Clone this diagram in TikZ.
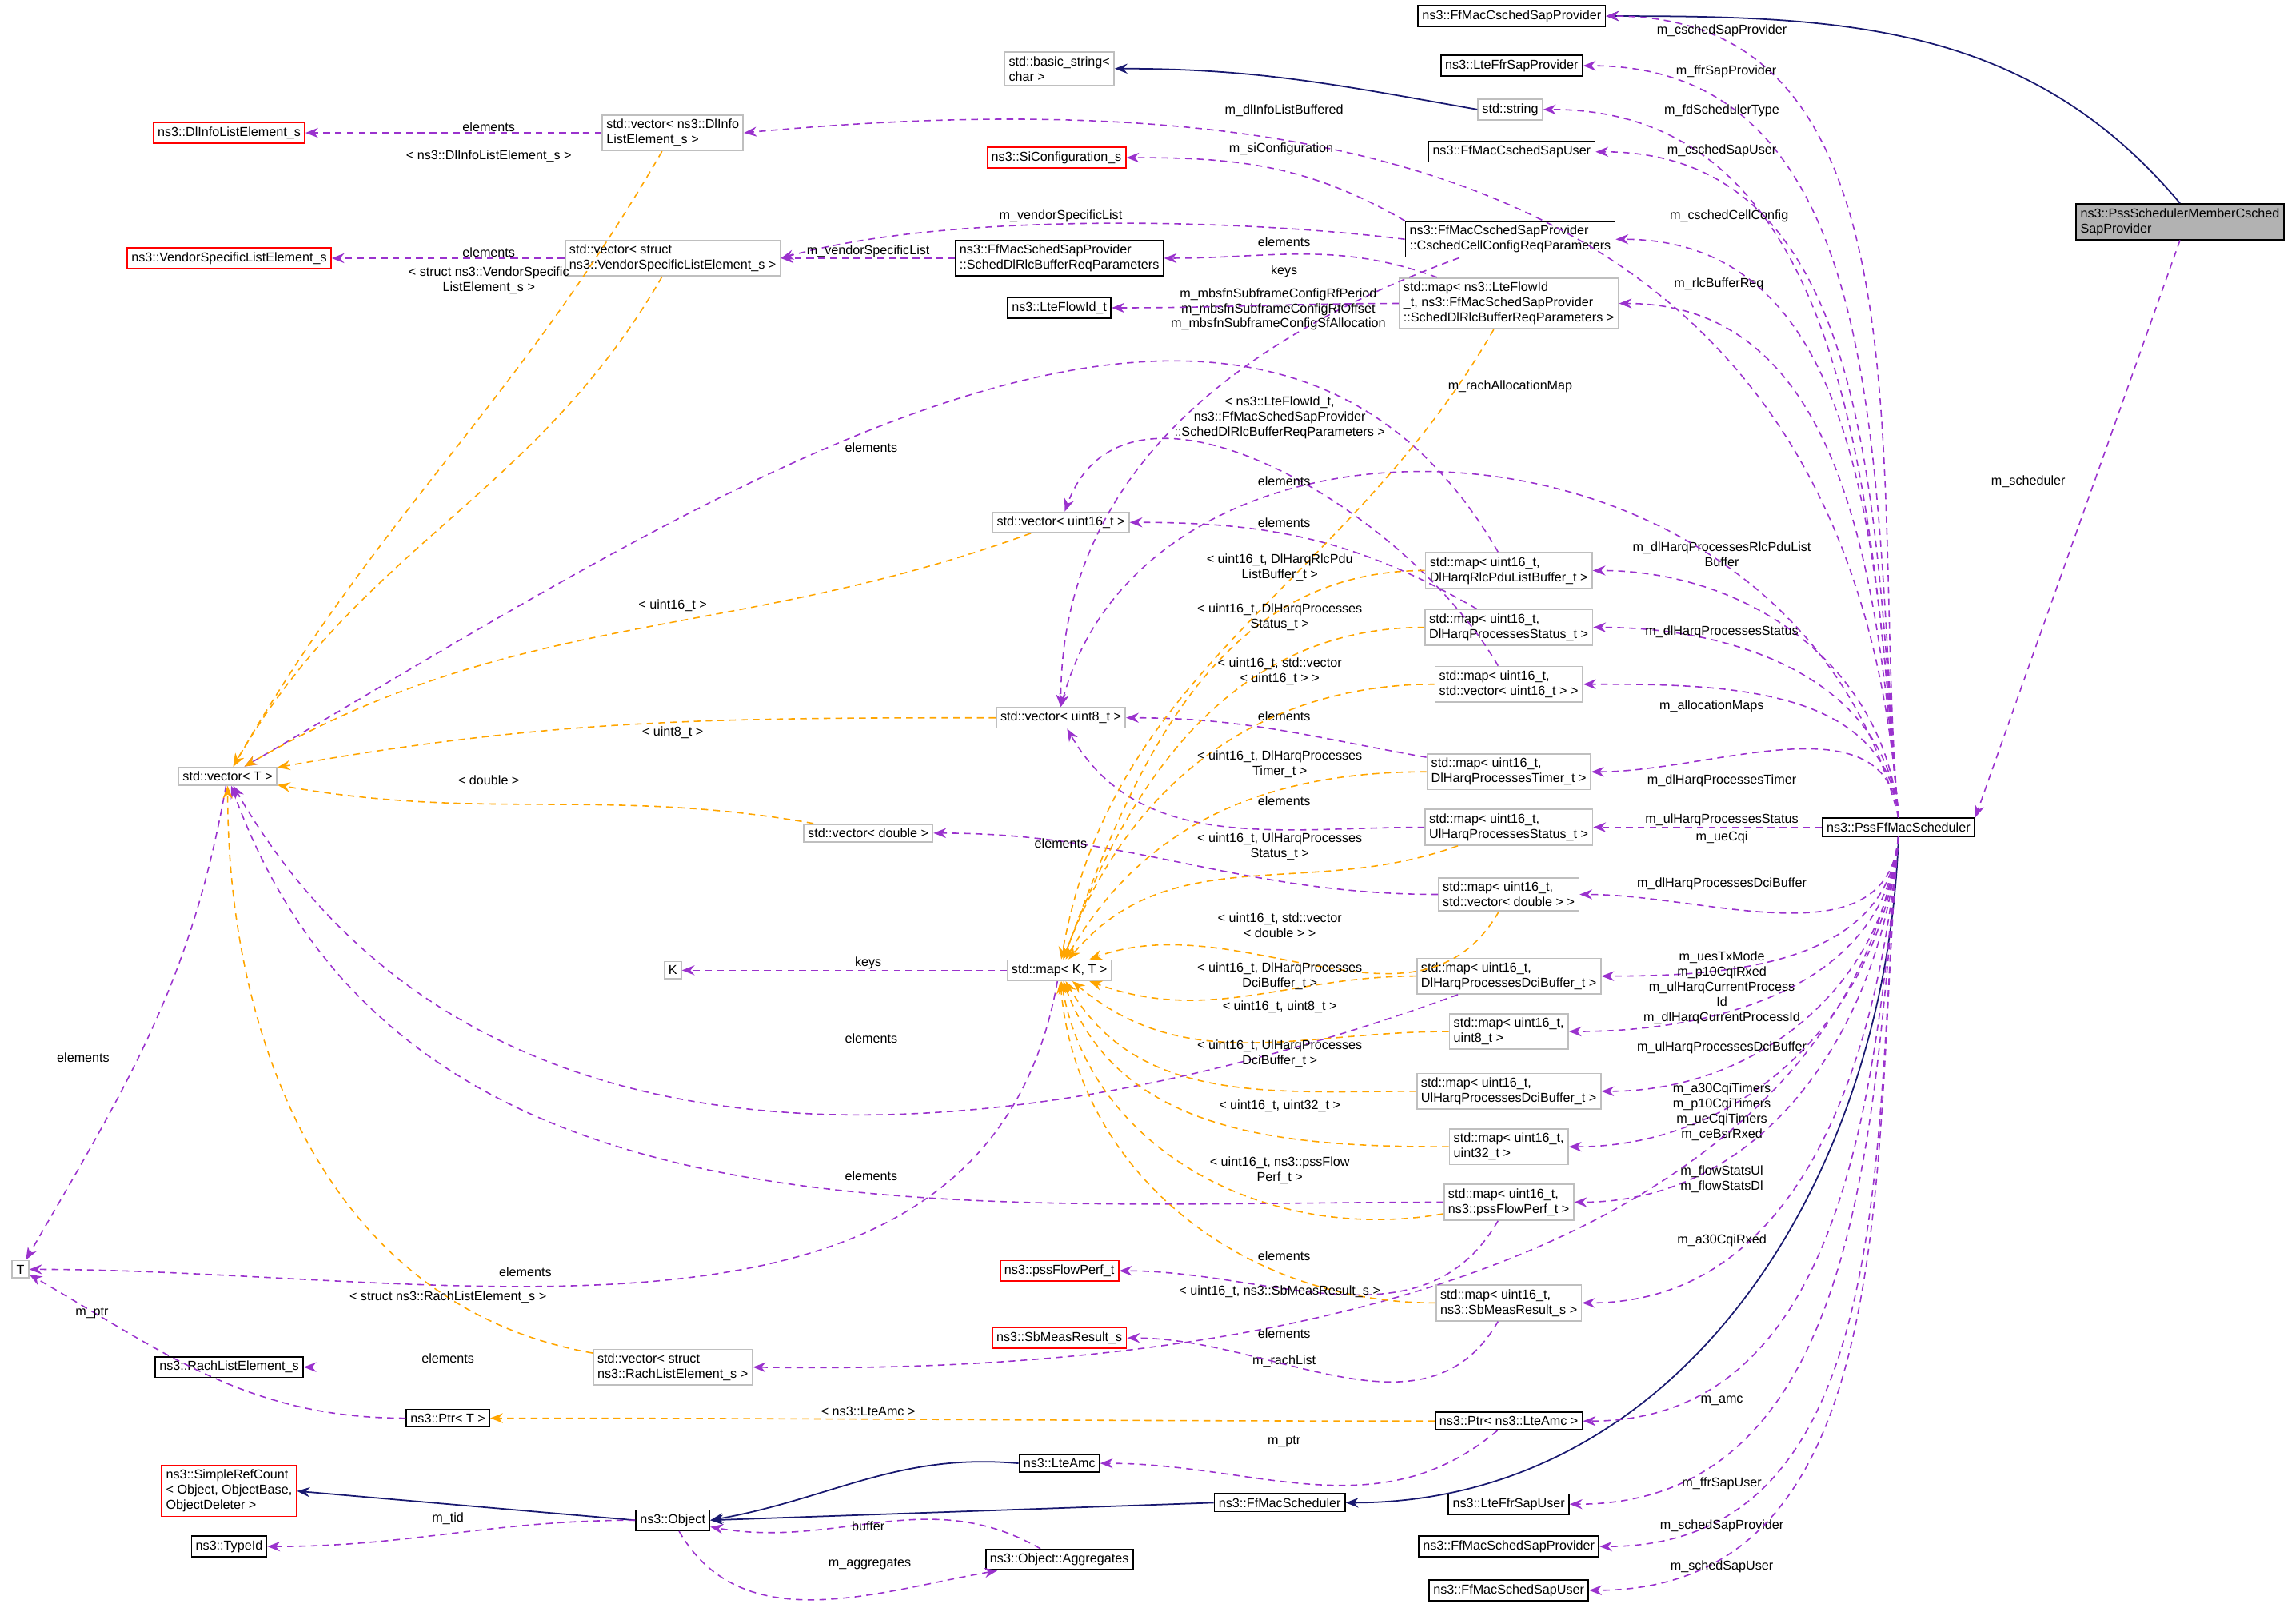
\documentclass[tikz,border=0pt]{standalone}
\usepackage{fontspec}
\setmainfont{Liberation Sans}
\usetikzlibrary{arrows.meta,positioning}
\definecolor{usecol}{HTML}{9A32CD}
\definecolor{tplcol}{HTML}{FFA500}
\definecolor{inhcol}{HTML}{191970}
\begin{document}
\begin{tikzpicture}
  [x=0.1825mm,y=-0.1825mm,
   font=\fontsize{4.6}{5.4}\selectfont,
   box/.style={rectangle, inner sep=1.5pt, align=left, line width=0.5pt},
   cls/.style={box, draw=black},
   tpl/.style={box, draw=black!25},
   bad/.style={box, draw=red},
   focus/.style={box, draw=black, fill=black!30},
   lbl/.style={inner sep=0pt, align=center},
   use/.style={draw=usecol, line width=0.45pt, dash pattern=on 2.4pt off 1.8pt,
     -{Stealth[length=4.5pt,width=3.5pt]}},
   inst/.style={draw=tplcol, line width=0.45pt, dash pattern=on 2.4pt off 1.8pt,
     -{Stealth[length=4.5pt,width=3.5pt]}},
   inh/.style={draw=inhcol, line width=0.5pt, -{Stealth[length=4.5pt,width=3.5pt]}}
  ]
  \useasboundingbox (0,0) rectangle (1568,1113);

  % classes on the right
  \node (pss) [cls] at (1301,567) {ns3::PssFfMacScheduler};
  \node (psscsched) [focus] at (1494,152) {ns3::PssSchedulerMemberCsched\\SapProvider};
  \node (cschedprov) [cls] at (1036,11) {ns3::FfMacCschedSapProvider};
  \node (lteffrprov) [cls] at (1036,45) {ns3::LteFfrSapProvider};
  \node (stdstring) [tpl] at (1035,75) {std::string};
  \node (bstring) [tpl] at (726,47) {std::basic\_string<\\ char >};
  \node (cschedsapuser) [cls] at (1036,104) {ns3::FfMacCschedSapUser};
  \node (cellconfig) [cls] at (1035,164) {ns3::FfMacCschedSapProvider\\::CschedCellConfigReqParameters};
  \node (maprlc) [tpl] at (1034,208) {std::map< ns3::LteFlowId\\\_t, ns3::FfMacSchedSapProvider\\::SchedDlRlcBufferReqParameters >};
  \node (siconf) [bad] at (724,108) {ns3::SiConfiguration\_s};
  \node (rlcreq) [cls] at (726,177) {ns3::FfMacSchedSapProvider\\::SchedDlRlcBufferReqParameters};
  \node (lteflowid) [cls] at (726,211) {ns3::LteFlowId\_t};

  % map column
  \node (mapdlrlc) [tpl] at (1034,391) {std::map< uint16\_t,\\ DlHarqRlcPduListBuffer\_t >};
  \node (mapdlstat) [tpl] at (1034,430) {std::map< uint16\_t,\\ DlHarqProcessesStatus\_t >};
  \node (mapvecu16) [tpl] at (1034,469) {std::map< uint16\_t,\\ std::vector< uint16\_t > >};
  \node (mapdltimer) [tpl] at (1034,529) {std::map< uint16\_t,\\ DlHarqProcessesTimer\_t >};
  \node (mapulstat) [tpl] at (1034,567) {std::map< uint16\_t,\\ UlHarqProcessesStatus\_t >};
  \node (mapvecdouble) [tpl] at (1034,613) {std::map< uint16\_t,\\ std::vector< double > >};
  \node (mapdldci) [tpl] at (1034,669) {std::map< uint16\_t,\\ DlHarqProcessesDciBuffer\_t >};
  \node (mapu8) [tpl] at (1034,707) {std::map< uint16\_t,\\ uint8\_t >};
  \node (mapuldci) [tpl] at (1034,748) {std::map< uint16\_t,\\ UlHarqProcessesDciBuffer\_t >};
  \node (mapu32) [tpl] at (1034,786) {std::map< uint16\_t,\\ uint32\_t >};
  \node (mapflowperf) [tpl] at (1034,824) {std::map< uint16\_t,\\ ns3::pssFlowPerf\_t >};
  \node (mapsbmeas) [tpl] at (1034,893) {std::map< uint16\_t,\\ ns3::SbMeasResult\_s >};
  \node (ptramc) [cls] at (1034,974) {ns3::Ptr< ns3::LteAmc >};
  \node (lteffruser) [cls] at (1034,1031) {ns3::LteFfrSapUser};
  \node (schedsapprov) [cls] at (1034,1060) {ns3::FfMacSchedSapProvider};
  \node (schedsapuser) [cls] at (1034,1090) {ns3::FfMacSchedSapUser};

  % middle column
  \node (vecu16) [tpl] at (727,358) {std::vector< uint16\_t >};
  \node (vecu8) [tpl] at (727,492) {std::vector< uint8\_t >};
  \node (vecdouble) [tpl] at (595,571) {std::vector< double >};
  \node (mapKT) [tpl] at (726,665) {std::map< K, T >};
  \node (K) [tpl] at (461,665) {K};
  \node (pssflowperf) [bad] at (726,871) {ns3::pssFlowPerf\_t};
  \node (sbmeas) [bad] at (726,917) {ns3::SbMeasResult\_s};
  \node (lteamc) [cls] at (726,1003) {ns3::LteAmc};
  \node (ffmacsched) [cls] at (877,1030) {ns3::FfMacScheduler};
  \node (aggregates) [cls] at (726,1069) {ns3::Object::Aggregates};

  % left side
  \node (dlinfolist) [bad] at (157,91) {ns3::DlInfoListElement\_s};
  \node (vecdlinfo) [tpl] at (461,91) {std::vector< ns3::DlInfo\\ListElement\_s >};
  \node (vendorelem) [bad] at (157,177) {ns3::VendorSpecificListElement\_s};
  \node (vecvendor) [tpl] at (461,177) {std::vector< struct\\ ns3::VendorSpecificListElement\_s >};
  \node (vecT) [tpl] at (156,532) {std::vector< T >};
  \node (T) [tpl] at (14,870) {T};
  \node (rachelem) [cls] at (157,937) {ns3::RachListElement\_s};
  \node (vecrach) [tpl] at (461,937) {std::vector< struct\\ ns3::RachListElement\_s >};
  \node (ptrT) [cls] at (307,972) {ns3::Ptr< T >};
  \node (simpleref) [bad] at (157,1022) {ns3::SimpleRefCount\\< Object, ObjectBase,\\ ObjectDeleter >};
  \node (object) [cls] at (461,1042) {ns3::Object};
  \node (typeid) [cls] at (157,1060) {ns3::TypeId};

  % inheritance
  \draw [inh] (stdstring.west) to[out=170,in=0] (bstring.east);
  \draw [inh] (psscsched.north) to[out=130,in=0] (cschedprov.east);
  \draw [inh] (pss.south) to[out=-92,in=0] (ffmacsched.east);
  \draw [inh] (ffmacsched.west) -- (object.east);
  \draw [inh] (lteamc.west) to[out=175,in=10] (object.east);
  \draw [inh] (object.west) -- (simpleref.east);

  % members of the scheduler, above it
  \foreach \t/\lx/\ly/\l in {cschedprov/1180/21/m\_cschedSapProvider,
      lteffrprov/1183/49/m\_ffrSapProvider, stdstring/1180/76/m\_fdSchedulerType,
      cschedsapuser/1180/103/m\_cschedSapUser, cellconfig/1185/148/m\_cschedCellConfig,
      maprlc/1178/195/m\_rlcBufferReq,
      mapdlrlc/1180/380/{m\_dlHarqProcessesRlcPduList\\Buffer},
      mapdlstat/1180/433/m\_dlHarqProcessesStatus, mapvecu16/1173/484/m\_allocationMaps,
      mapdltimer/1180/535/m\_dlHarqProcessesTimer}
    {
    \draw [use] (pss.north) to[out=95,in=0] (\t.east);
    \node [lbl] at (\lx,\ly) {\l};
    }
  \draw [use] (pss.west) -- (mapulstat.east);
  \node [lbl] at (1180,562) {m\_ulHarqProcessesStatus};

  % members of the scheduler, below it
  \foreach \t/\lx/\ly/\l in {mapvecdouble/1180/574/m\_ueCqi,
      mapdldci/1180/606/m\_dlHarqProcessesDciBuffer,
      mapu8/1180/677/{m\_uesTxMode\\m\_p10CqiRxed\\m\_ulHarqCurrentProcess\\Id\\m\_dlHarqCurrentProcessId},
      mapuldci/1180/718/m\_ulHarqProcessesDciBuffer,
      mapu32/1180/762/{m\_a30CqiTimers\\m\_p10CqiTimers\\m\_ueCqiTimers\\m\_ceBsrRxed},
      mapflowperf/1180/808/{m\_flowStatsUl\\m\_flowStatsDl},
      mapsbmeas/1180/850/m\_a30CqiRxed, ptramc/1180/960/m\_amc,
      lteffruser/1180/1017/m\_ffrSapUser, schedsapprov/1180/1046/m\_schedSapProvider,
      schedsapuser/1180/1074/m\_schedSapUser}
    {
    \draw [use] (pss.south) to[out=-95,in=0] (\t.east);
    \node [lbl] at (\lx,\ly) {\l};
    }
  \draw [use] (pss.south) .. controls (1270,800) and (1000,945) .. (vecrach.east);
  \node [lbl] at (880,933) {m\_rachList};
  \draw [use] (pss.north) .. controls (1270,110) and (900,55) .. (vecdlinfo.east);
  \node [lbl] at (880,76) {m\_dlInfoListBuffered};
  \draw [use] (pss.north) .. controls (1230,270) and (790,250) .. (vecu8.north);
  \node [lbl] at (1035,265) {m\_rachAllocationMap};
  \draw [use] (psscsched.south) -- (pss.north east);
  \node [lbl] at (1390,330) {m\_scheduler};

  % other members
  \draw [use] (cellconfig.north west) to[out=150,in=0] (siconf.east);
  \node [lbl] at (878,102) {m\_siConfiguration};
  \draw [use] (cellconfig.west) .. controls (850,150) and (650,145) .. (vecvendor.east);
  \node [lbl] at (727,148) {m\_vendorSpecificList};
  \foreach \s/\t/\o/\i/\lx/\ly/\l in {rlcreq/vecvendor/180/0/595/172/m\_vendorSpecificList,
      cellconfig/vecu8/200/90/876/212/{m\_mbsfnSubframeConfigRfPeriod\\m\_mbsfnSubframeConfigRfOffset\\m\_mbsfnSubframeConfigSfAllocation},
      maprlc/rlcreq/160/0/880/166/elements, maprlc/lteflowid/180/0/880/186/keys,
      vecdlinfo/dlinfolist/180/0/335/87/elements, vecvendor/vendorelem/180/0/335/173/elements,
      mapvecu16/vecu16/120/70/880/330/elements, mapdlstat/vecu16/150/0/880/358/elements,
      mapdltimer/vecu8/170/0/880/491/elements, mapulstat/vecu8/180/-60/880/549/elements,
      mapvecdouble/vecdouble/180/0/727/578/elements, mapKT/K/180/0/595/660/keys,
      mapdldci/vecT/200/-60/597/712/elements, mapflowperf/vecT/180/-70/597/806/elements,
      mapdlrlc/vecT/120/30/597/307/elements,
      mapKT/T/-100/0/360/872/elements, mapflowperf/pssflowperf/-120/0/880/861/elements,
      mapsbmeas/sbmeas/-120/0/880/914/elements, vecrach/rachelem/180/0/307/931/elements,
      ptrT/T/180/-30/63/900/m\_ptr, vecT/T/-100/60/57/725/elements,
      ptramc/lteamc/-140/0/880/988/m\_ptr, object/typeid/180/0/307/1041/m\_tid,
      object/aggregates/-60/-170/596/1072/m\_aggregates, aggregates/object/150/-10/595/1046/buffer}
    {
    \draw [use] (\s) to[out=\o,in=\i] (\t);
    \node [lbl] at (\lx,\ly) {\l};
    }

  % template instances
  \foreach \s/\t/\o/\i/\lx/\ly/\l in {vecdlinfo/vecT/-120/60/335/107/{< ns3::DlInfoListElement\_s >},
      vecvendor/vecT/-120/60/335/192/{< struct ns3::VendorSpecific\\ListElement\_s >},
      vecu16/vecT/200/30/461/415/{< uint16\_t >}, vecu8/vecT/180/10/461/502/{< uint8\_t >},
      vecdouble/vecT/170/-10/335/535/{< double >},
      vecrach/vecT/170/-90/307/889/{< struct ns3::RachListElement\_s >},
      ptramc/ptrT/180/0/595/967/{< ns3::LteAmc >},
      maprlc/mapKT/-120/80/877/286/{< ns3::LteFlowId\_t,\\ ns3::FfMacSchedSapProvider\\::SchedDlRlcBufferReqParameters >},
      mapdlrlc/mapKT/180/70/877/389/{< uint16\_t, DlHarqRlcPdu\\ListBuffer\_t >},
      mapdlstat/mapKT/180/70/877/423/{< uint16\_t, DlHarqProcesses\\Status\_t >},
      mapvecu16/mapKT/180/70/877/460/{< uint16\_t, std::vector\\< uint16\_t > >},
      mapdltimer/mapKT/180/60/877/524/{< uint16\_t, DlHarqProcesses\\Timer\_t >},
      mapulstat/mapKT/200/50/877/580/{< uint16\_t, UlHarqProcesses\\Status\_t >},
      mapvecdouble/mapKT/-120/20/877/634/{< uint16\_t, std::vector\\< double > >},
      mapdldci/mapKT/180/-20/877/669/{< uint16\_t, DlHarqProcesses\\DciBuffer\_t >},
      mapu8/mapKT/180/-40/877/690/{< uint16\_t, uint8\_t >},
      mapuldci/mapKT/180/-60/877/722/{< uint16\_t, UlHarqProcesses\\DciBuffer\_t >},
      mapu32/mapKT/180/-70/877/758/{< uint16\_t, uint32\_t >},
      mapflowperf/mapKT/190/-80/877/802/{< uint16\_t, ns3::pssFlow\\Perf\_t >},
      mapsbmeas/mapKT/180/-85/877/885/{< uint16\_t, ns3::SbMeasResult\_s >}}
    {
    \draw [inst] (\s) to[out=\o,in=\i] (\t);
    \node [lbl] at (\lx,\ly) {\l};
    }
\end{tikzpicture}
\end{document}
